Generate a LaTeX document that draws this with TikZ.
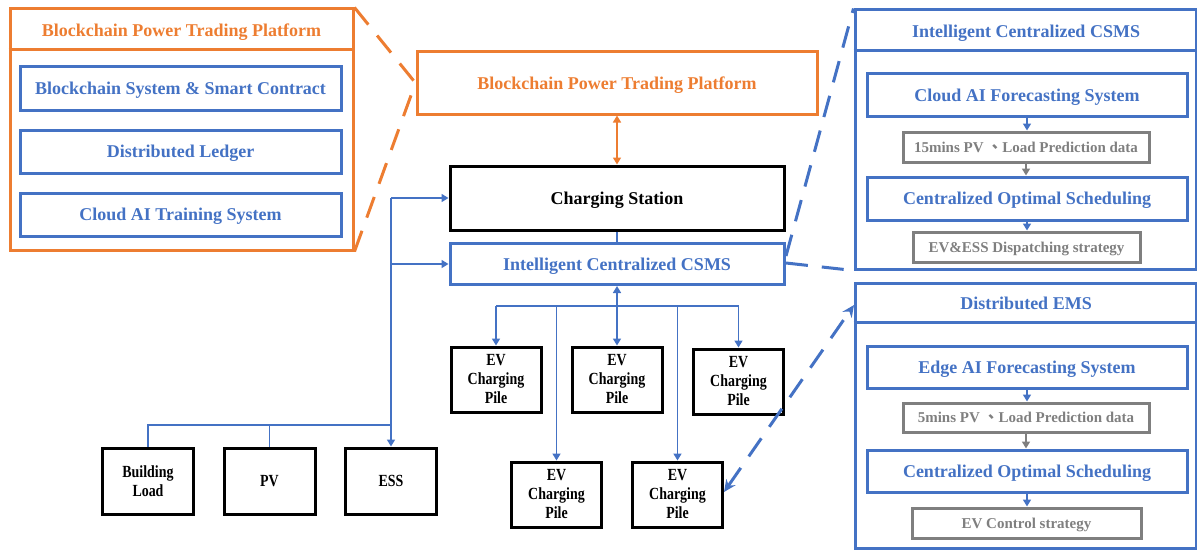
\documentclass[tikz,border=0pt]{standalone}
\usepackage{fontspec}
\setmainfont{Liberation Serif}
\newfontfamily\narrowfont[FakeStretch=0.82]{Liberation Serif}
\newfontfamily\cjk{Noto Sans CJK TC}
\usetikzlibrary{arrows.meta}

\definecolor{orangeC}{HTML}{ED7D31}
\definecolor{blueC}{HTML}{4472C4}
\definecolor{grayC}{HTML}{7F7F7F}

\newcommand{\bigbf}{\fontsize{18}{20}\selectfont\bfseries}
\newcommand{\smallbf}{\fontsize{15}{17}\selectfont\bfseries}
\newcommand{\pilebf}{\fontsize{17}{19}\selectfont\bfseries\narrowfont}

\tikzset{
  box/.style={rectangle, inner sep=0pt, line width=3pt, align=center},
  onerow/.style={text depth=0pt},
  orangebox/.style={box, onerow, draw=orangeC, text=orangeC, font=\bigbf},
  bluebox/.style={box, onerow, draw=blueC, text=blueC, font=\bigbf},
  blackbox/.style={box, onerow, draw=black, text=black, font=\bigbf},
  pilebox/.style={box, draw=black, text=black, font=\pilebf, minimum width=90pt, minimum height=65pt},
  graybox/.style={box, onerow, draw=grayC, text=grayC, font=\smallbf},
  panel/.style={box, draw=#1},
  conn/.style={draw=blueC, line width=1.6pt},
  tip/.style={-{Triangle[width=8pt,length=7pt]}},
  dtip/.style={{Triangle[width=8pt,length=7pt]}-{Triangle[width=8pt,length=7pt]}},
  zoomline/.style={line width=3pt, dash pattern=on 22pt off 14pt},
}

\begin{document}
\begin{tikzpicture}[x=1pt,y=-1pt]
\useasboundingbox (0,0) rectangle (1197,551);

% ---------- blockchain platform detail (left) ----------
\node[panel=orangeC, minimum width=343pt, minimum height=241pt] (lp) at (181.5,129.5) {};
\draw[orangeC, line width=3pt] (lp.west |- 0,50) -- (lp.east |- 0,50);
\node[onerow, text=orangeC, font=\bigbf] (lph) at (181.5,30) {Blockchain Power Trading Platform};
\node[bluebox, minimum width=321pt, minimum height=43pt] (bsc) at (180.5,88.5) {Blockchain System \& Smart Contract};
\node[bluebox, minimum width=321pt, minimum height=43pt] (dl) at (180.5,151.5) {Distributed Ledger};
\node[bluebox, minimum width=321pt, minimum height=43pt] (cat) at (180.5,214.5) {Cloud AI Training System};

% ---------- central column ----------
\node[orangebox, minimum width=400pt, minimum height=62pt] (bc) at (617,83) {Blockchain Power Trading Platform};
\node[blackbox, minimum width=334pt, minimum height=64pt] (cs) at (617,198) {Charging Station};
\node[bluebox, minimum width=334pt, minimum height=41pt] (csms) at (617,264) {Intelligent Centralized CSMS};

\draw[orangeC, line width=1.6pt, dtip] (bc.south) -- (cs.north);
\draw[conn] (cs.south) -- (csms.north);

% ---------- charging piles ----------
\node[pilebox] (p1) at (496,379.5) {EV\\Charging\\Pile};
\node[pilebox] (p2) at (617,379.5) {EV\\Charging\\Pile};
\node[pilebox] (p3) at (738.5,381.5) {EV\\Charging\\Pile};
\node[pilebox] (p4) at (556.5,494.5) {EV\\Charging\\Pile};
\node[pilebox] (p5) at (677.5,494.5) {EV\\Charging\\Pile};

\coordinate (bus) at (617,306);
\draw[conn] (p1.north |- bus) -- (p3.north |- bus);
\draw[conn, dtip] (p2.north) -- (csms.south);
\draw[conn, tip] (p1.north |- bus) -- (p1.north);
\draw[conn, tip] (p3.north |- bus) -- (p3.north);
\draw[conn, tip] (p4.north |- bus) -- (p4.north);
\draw[conn, tip] (p5.north |- bus) -- (p5.north);

% ---------- loads and sources ----------
\node[pilebox, minimum width=91pt, minimum height=66pt] (bl) at (148,481) {Building\\Load};
\node[pilebox, minimum width=91pt, minimum height=66pt] (pv) at (269.5,481) {PV};
\node[pilebox, minimum width=91pt, minimum height=66pt] (ess) at (391,481) {ESS};

\coordinate (feed) at (391,425);
\draw[conn] (bl.north) |- (feed);
\draw[conn] (pv.north) -- (pv.north |- feed);
\draw[conn, tip] (ess.north |- cs.west) -- (ess.north);
\draw[conn, tip] (ess.north |- cs.west) -- (cs.west);
\draw[conn, tip] (ess.north |- csms.west) -- (csms.west);

% ---------- CSMS detail (right, top) ----------
\node[panel=blueC, minimum width=341pt, minimum height=259pt] (rp1) at (1025.5,139.5) {};
\draw[blueC, line width=3pt] (rp1.west |- 0,51) -- (rp1.east |- 0,51);
\node[onerow, text=blueC, font=\bigbf] (rp1h) at (1026,31) {Intelligent Centralized CSMS};
\node[bluebox, minimum width=320pt, minimum height=42pt] (cafs) at (1027,95) {Cloud AI Forecasting System};
\node[graybox, minimum width=246pt, minimum height=30pt] (pd15) at (1026,147) {15mins PV {\cjk 、}Load Prediction data};
\node[bluebox, minimum width=320pt, minimum height=43pt] (cos1) at (1027,198.5) {Centralized Optimal Scheduling};
\node[graybox, minimum width=227pt, minimum height=30pt] (eds) at (1026.5,247) {EV\&ESS Dispatching strategy};
\draw[conn, tip] (cafs.south) -- (cafs.south |- pd15.north);
\draw[conn, draw=grayC, tip] (pd15.south) -- (pd15.south |- cos1.north);
\draw[conn, tip] (cos1.south) -- (cos1.south |- eds.north);

% ---------- EMS detail (right, bottom) ----------
\node[panel=blueC, minimum width=341pt, minimum height=265pt] (rp2) at (1025.5,415.5) {};
\draw[blueC, line width=3pt] (rp2.west |- 0,322) -- (rp2.east |- 0,322);
\node[onerow, text=blueC, font=\bigbf] (rp2h) at (1026,303) {Distributed EMS};
\node[bluebox, minimum width=320pt, minimum height=42pt] (eafs) at (1027,367) {Edge AI Forecasting System};
\node[graybox, minimum width=246pt, minimum height=29pt] (pd5) at (1026,417.5) {5mins PV {\cjk 、}Load Prediction data};
\node[bluebox, minimum width=320pt, minimum height=42pt] (cos2) at (1027,471) {Centralized Optimal Scheduling};
\node[graybox, minimum width=229pt, minimum height=30pt] (ecs) at (1026.5,523) {EV Control strategy};
\draw[conn, tip] (eafs.south) -- (eafs.south |- pd5.north);
\draw[conn, draw=grayC, tip] (pd5.south) -- (pd5.south |- cos2.north);
\draw[conn, tip] (cos2.south) -- (cos2.south |- ecs.north);

% ---------- zoom-out guide lines ----------
\draw[orangeC, zoomline] (lp.north east) -- (bc.west);
\draw[orangeC, zoomline] (lp.south east) -- (bc.west);
\coordinate (csmsA) at (786,256);
\coordinate (csmsB) at (786,263);
\draw[blueC, zoomline] (csmsA) -- (rp1.north west);
\draw[blueC, zoomline] (csmsB) -- (rp1.south west);
\coordinate (emsTip) at (854,305);
\coordinate (pileTip) at (724,492);
\draw[blueC, zoomline, {Stealth[length=12pt,width=11pt]}-{Stealth[length=12pt,width=11pt]}] (pileTip) -- (emsTip);
\end{tikzpicture}
\end{document}
